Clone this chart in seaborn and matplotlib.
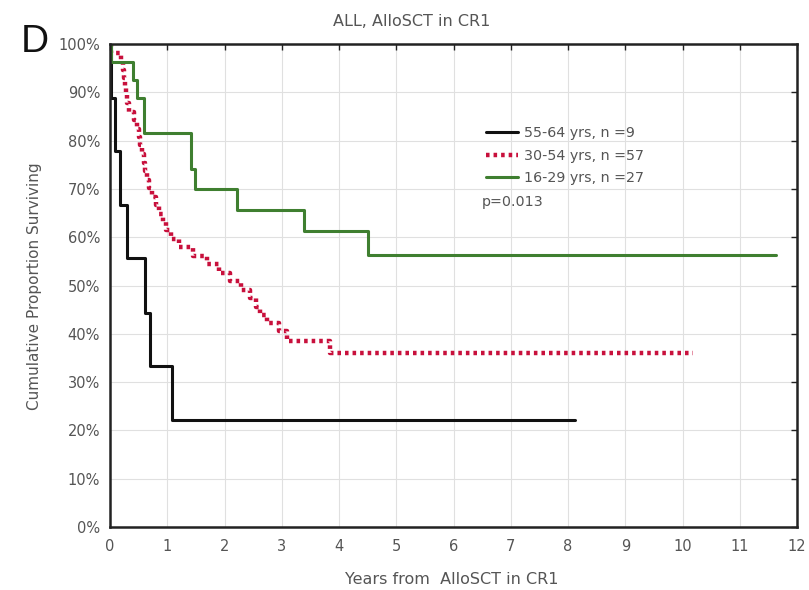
import numpy as np
import pandas as pd
import matplotlib
matplotlib.use("Agg")
import matplotlib.pyplot as plt
from matplotlib.ticker import FuncFormatter, MultipleLocator
import seaborn as sns

# ---- data ----
groups = ["55-64 yrs, n =9", "30-54 yrs, n =57", "16-29 yrs, n =27"]

t_old = [0.0, 0.02, 0.08, 0.17, 0.30, 0.62, 0.69, 1.09, 8.12]
s_old = [100.0, 88.9, 77.8, 66.7, 55.6, 44.4, 33.3, 22.2, 22.2]

t_mid = [0.0, 0.02, 0.20, 0.22, 0.24, 0.26, 0.28, 0.30, 0.34, 0.42, 0.48,
         0.50, 0.53, 0.56, 0.59, 0.62, 0.65, 0.68, 0.74, 0.80, 0.86, 0.92,
         0.98, 1.06, 1.20, 1.45, 1.70, 1.90, 2.10, 2.28, 2.45, 2.55, 2.62,
         2.75, 2.95, 3.10, 3.84, 10.18]
s_mid = [100.0, 98.2, 96.5, 94.7, 93.0, 91.2, 89.5, 87.7, 86.0, 84.2, 82.5,
         80.7, 79.0, 77.2, 75.4, 73.7, 71.9, 70.2, 68.4, 66.7, 64.9, 63.2,
         61.4, 59.6, 57.9, 56.1, 54.4, 52.6, 50.9, 49.1, 47.4, 45.6, 43.9,
         42.3, 40.6, 38.5, 36.1, 36.1]

t_young = [0.0, 0.02, 0.41, 0.48, 0.59, 1.41, 1.48, 2.21, 3.38, 4.50, 11.63]
s_young = [100.0, 96.3, 92.6, 88.9, 81.5, 74.1, 70.0, 65.6, 61.2, 56.3, 56.3]

x_ticks = list(range(0, 13))
y_ticks = list(range(0, 101, 10))

title = "ALL, AlloSCT in CR1"
xlabel = "Years from  AlloSCT in CR1"
ylabel = "Cumulative Proportion Surviving"
pval = "p=0.013"

df = pd.concat([
    pd.DataFrame({"t": t_old, "s": s_old, "group": groups[0]}),
    pd.DataFrame({"t": t_mid, "s": s_mid, "group": groups[1]}),
    pd.DataFrame({"t": t_young, "s": s_young, "group": groups[2]}),
], ignore_index=True)

# ---- styling ----
sns.set_theme(style="white")
plt.rcParams["font.family"] = ["DejaVu Sans"]
txt_col = "#555555"

W, H = 809, 590
L, R, T, B = 110, 797, 44, 527
fig = plt.figure(figsize=(W / 100, H / 100), dpi=100)
ax = fig.add_axes([L / W, 1 - B / H, (R - L) / W, (B - T) / H])

styles = {
    groups[0]: dict(color="#111111", linewidth=2.2, linestyle="-"),
    groups[1]: dict(color="#c8103c", linewidth=3.2, linestyle=(0, (0.8, 0.9))),
    groups[2]: dict(color="#3f7f30", linewidth=2.2, linestyle="-"),
}
for g in groups:
    sub = df[df["group"] == g]
    sns.lineplot(data=sub, x="t", y="s", ax=ax, drawstyle="steps-post",
                 estimator=None, sort=False, label=g, **styles[g])

ax.set_xlim(0, 12)
ax.set_ylim(0, 100)
ax.set_xticks(x_ticks)
ax.set_yticks(y_ticks)
ax.yaxis.set_major_formatter(FuncFormatter(lambda v, p: f"{int(v)}%"))
ax.grid(True, color="#e0e0e0", linewidth=0.8)
for sp in ax.spines.values():
    sp.set_visible(True)
    sp.set_color("#222222")
    sp.set_linewidth(1.8)
ax.tick_params(axis="both", which="both", direction="in", length=4, width=1,
               top=True, right=True, labelsize=10.5, labelcolor=txt_col, color="#222222")
ax.tick_params(axis="x", pad=8.5)
ax.tick_params(axis="y", pad=7.2)

def px_x(px):
    return (px - L) / (R - L)

def px_y(py):
    return (B - py) / (B - T)

ax.set_xlabel(xlabel, fontsize=11.5, color=txt_col)
ax.xaxis.set_label_coords(px_x(452), px_y(580))
ax.xaxis.label.set_va("center")
ax.set_ylabel(ylabel, fontsize=11, color=txt_col)
ax.yaxis.set_label_coords(px_x(35), px_y(286))
ax.yaxis.label.set_va("center")

leg = ax.legend(loc="upper left", bbox_to_anchor=(px_x(480), px_y(120.5)),
                frameon=False, fontsize=10.3, handlelength=2.24, handletextpad=0.42,
                labelspacing=0.6, borderaxespad=0)
for t in leg.get_texts():
    t.set_color(txt_col)
ax.text(px_x(482), px_y(202), pval, transform=ax.transAxes, fontsize=10.3,
        color=txt_col, va="center", ha="left")

fig.text(412 / W, 1 - 21 / H, title, fontsize=11.5, color=txt_col, ha="center", va="center")
fig.text(35 / W, 1 - 42 / H, "D", fontsize=28, color="#111111", ha="center", va="center",
         family="Liberation Sans")

fig.savefig("out.png", dpi=100)
